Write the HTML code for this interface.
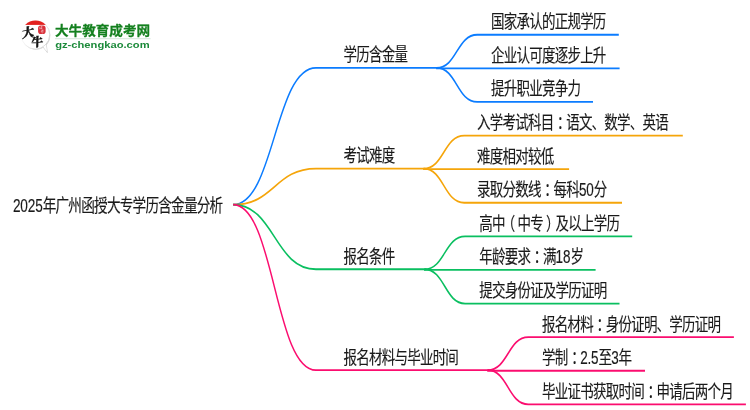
<!DOCTYPE html>
<html lang="zh-CN">
<head>
<meta charset="utf-8">
<title>2025年广州函授大专学历含金量分析</title>
<style>
html,body{margin:0;padding:0;background:#fff;}
body{width:750px;height:410px;overflow:hidden;position:relative;}
svg{display:block;position:absolute;left:0;top:0;will-change:transform;}
.t{font-family:"Liberation Sans","Noto Sans CJK SC",sans-serif;font-size:18.0px;fill:#1a1a1a;letter-spacing:-1.000px;stroke:#1a1a1a;stroke-width:0.16px;}
.d{letter-spacing:-0.15px;}
.p{letter-spacing:-0.4px;}
.ln{fill:none;stroke-width:1.8;stroke-linecap:butt;stroke-linejoin:round;}
.brand{font-family:"Liberation Sans","Noto Sans CJK SC",sans-serif;font-weight:bold;font-size:12.8px;fill:#14801f;stroke:#14801f;stroke-width:0.25px;}
.url{font-family:"Liberation Sans",sans-serif;font-weight:bold;font-size:9.6px;fill:#1c8a3a;}
.cal{font-family:"Liberation Serif","Noto Serif CJK SC",serif;font-weight:900;fill:#141414;stroke:#141414;stroke-width:0.35px;}
</style>
</head>
<body>
<svg width="750" height="410" viewBox="0 0 750 410">
<rect width="750" height="410" fill="#ffffff"/>

<defs>
<clipPath id="bub"><circle cx="35.45" cy="34.8" r="14.3"/></clipPath>
<linearGradient id="edge" x1="0" y1="0" x2="1" y2="1">
<stop offset="0" stop-color="#ffffff"/><stop offset="0.45" stop-color="#f4f4f4"/><stop offset="0.8" stop-color="#d6d6d6"/><stop offset="1" stop-color="#c2c2c2"/>
</linearGradient>
<filter id="soft" x="-20%" y="-20%" width="140%" height="140%"><feGaussianBlur stdDeviation="0.7"/></filter>
</defs>
<g>
<circle cx="36.1" cy="35.5" r="14.2" fill="#c9c9c9" filter="url(#soft)" opacity="0.75"/>
<path d="M43.0,47.0 L47.4,52.6 L46.2,44.4 Z" fill="#ffffff" stroke="#cdcdcd" stroke-width="0.7" stroke-linejoin="round"/>
<circle cx="35.45" cy="34.8" r="14.3" fill="#ffffff" stroke="url(#edge)" stroke-width="1.0"/>
<path d="M43.4,46.4 L46.8,51.2 L45.9,44.8 Z" fill="#ffffff"/>
<rect x="20" y="19" width="32" height="5.9" fill="#e3211f" clip-path="url(#bub)"/>
<rect x="38.1" y="25.5" width="7.5" height="8.6" rx="2.6" ry="2.8" fill="#d9303a"/>
<text x="39.3" y="29.4" font-family="'Liberation Serif','Noto Serif CJK SC',serif" font-size="3.3" font-weight="bold" fill="#ffffff" opacity="0.75">成</text>
<text x="40.6" y="33.1" font-family="'Liberation Serif','Noto Serif CJK SC',serif" font-size="3.3" font-weight="bold" fill="#ffffff" opacity="0.75">考</text>
<text class="cal" font-size="12.4" transform="translate(22.0,38.0) rotate(-10) skewX(-10)">大</text>
<text class="cal" font-size="12.0" transform="translate(31.2,46.8) rotate(-5) skewX(-6)">牛</text>
</g>
<text class="brand" transform="translate(55.0,34.7) scale(1.0625,1)">大牛教育成考网</text>
<rect x="55" y="38.3" width="95.5" height="0.9" fill="#cde3d4"/>
<text class="url" x="55.2" y="47.8" textLength="94.4" lengthAdjust="spacingAndGlyphs">gz-chengkao.com</text>

<g transform="scale(0.8,1)">
<g class="ln" stroke="#0b7cff">
<path d="M545.75,67.90 C571.12,67.90 571.12,34.75 596.50,34.75 H773.50"/>
<path d="M545.12,68.35 H774.50"/>
<path d="M545.75,67.90 C571.12,67.90 571.12,101.95 596.50,101.95 H741.25"/>
<path d="M291.38,204.7 C343.19,204.7 343.19,67.90 395.00,67.90 H547.00"/>
</g>
<g class="ln" stroke="#f5a50a">
<path d="M529.50,168.65 C554.88,168.65 554.88,135.55 580.25,135.55 H853.50"/>
<path d="M528.88,169.15 H711.38"/>
<path d="M529.50,168.65 C554.88,168.65 554.88,202.75 580.25,202.75 H777.50"/>
<path d="M291.38,204.7 C343.19,204.7 343.19,168.65 395.00,168.65 H530.75"/>
</g>
<g class="ln" stroke="#0abf60">
<path d="M530.62,269.25 C556.00,269.25 556.00,236.35 581.38,236.35 H790.25"/>
<path d="M530.00,269.95 H744.50"/>
<path d="M530.62,269.25 C556.00,269.25 556.00,303.55 581.38,303.55 H774.38"/>
<path d="M291.38,204.7 C343.19,204.7 343.19,269.25 395.00,269.25 H531.88"/>
</g>
<g class="ln" stroke="#fb0d6f">
<path d="M609.62,370.15 C635.00,370.15 635.00,337.15 660.37,337.15 H917.37"/>
<path d="M609.00,370.75 H806.25"/>
<path d="M609.62,370.15 C635.00,370.15 635.00,404.35 660.37,404.35 H932.37"/>
<path d="M291.38,204.7 C343.19,204.7 343.19,370.15 395.00,370.15 H610.88"/>
</g>
</g>
<text class="t" transform="translate(12.90,212.10) scale(0.7560,1.012)"><tspan class="d">2025</tspan>年广州函授大专学历含金量分析</text>
<text class="t" transform="translate(343.50,61.40) scale(0.7500,1)">学历含金量</text>
<text class="t" transform="translate(491.00,28.25) scale(0.7500,1)">国家承认的正规学历</text>
<text class="t" transform="translate(491.00,61.85) scale(0.7500,1)">企业认可度逐步上升</text>
<text class="t" transform="translate(491.00,95.45) scale(0.7500,1)">提升职业竞争力</text>
<text class="t" transform="translate(343.50,162.15) scale(0.7500,1)">考试难度</text>
<text class="t" transform="translate(477.00,129.05) scale(0.7500,1)">入学考试科目<tspan dx="4.9">：</tspan><tspan dx="-4.9">语文、数学、英语</tspan></text>
<text class="t" transform="translate(477.00,162.65) scale(0.7500,1)">难度相对较低</text>
<text class="t" transform="translate(477.00,196.25) scale(0.7500,1)">录取分数线<tspan dx="4.9">：</tspan><tspan dx="-4.9">每科</tspan><tspan class="d">50</tspan>分</text>
<text class="t" transform="translate(343.50,262.75) scale(0.7500,1)">报名条件</text>
<text class="t" transform="translate(479.20,229.85) scale(0.7500,1)">高中<tspan dx="-4.0">（</tspan><tspan dx="4.0">中专</tspan><tspan dx="4.0">）</tspan><tspan dx="-4.0">及以上学历</tspan></text>
<text class="t" transform="translate(479.20,263.45) scale(0.7500,1)">年龄要求<tspan dx="4.9">：</tspan><tspan dx="-4.9">满</tspan><tspan class="d">18</tspan>岁</text>
<text class="t" transform="translate(479.20,297.05) scale(0.7500,1)">提交身份证及学历证明</text>
<text class="t" transform="translate(343.50,363.65) scale(0.7500,1)">报名材料与毕业时间</text>
<text class="t" transform="translate(542.00,330.65) scale(0.7500,1)">报名材料<tspan dx="4.9">：</tspan><tspan dx="-4.9">身份证明、学历证明</tspan></text>
<text class="t" transform="translate(542.00,364.25) scale(0.7500,1)">学制<tspan dx="4.9">：</tspan><tspan class="d" dx="-4.9">2</tspan><tspan class="p">.</tspan><tspan class="d">5</tspan>至<tspan class="d">3</tspan>年</text>
<text class="t" transform="translate(542.00,397.85) scale(0.7500,1)">毕业证书获取时间<tspan dx="4.9">：</tspan><tspan dx="-4.9">申请后两个月</tspan></text>
</svg>
</body>
</html>
